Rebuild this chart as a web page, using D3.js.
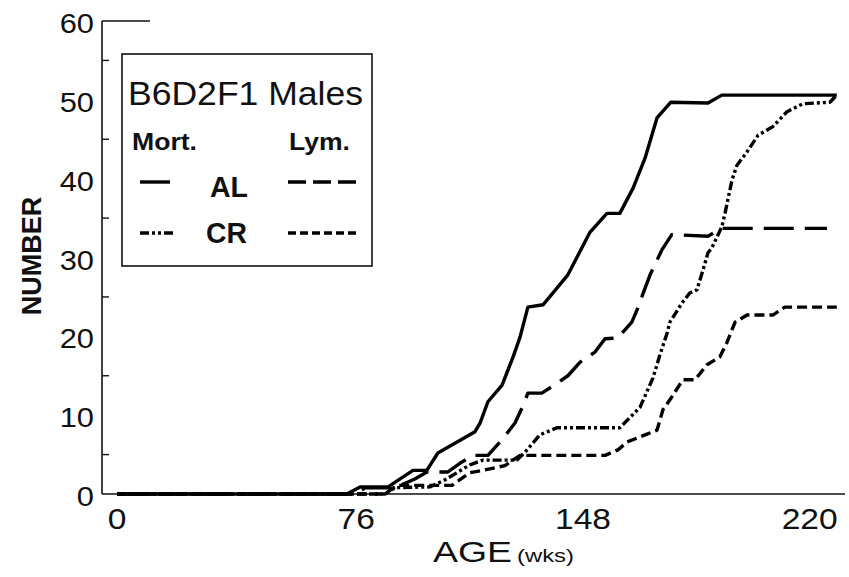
<!DOCTYPE html>
<html><head><meta charset="utf-8">
<script src="https://cdn.jsdelivr.net/npm/d3@7"></script>
<style>body{margin:0;background:#fff}svg{display:block}</style>
</head><body>
<svg id="chart" width="849" height="577"></svg>
<script>
// ---- data (age in weeks, cumulative number) ----
const mortALWeeks = [0,73.0,77.2,86.1,94.0,98.4,101.9,113.7,115.3,117.8,122.3,125.8,128.0,130.5,135.3,143.2,150.2,155.6,159.7,163.9,167.7,171.5,175.9,187.7,192.1,228.6];
const mortALValues = [0,0,0.9,0.9,3.0,3.0,5.2,7.9,9.0,11.7,13.8,17.4,19.9,23.7,24.0,27.8,33.2,35.6,35.6,38.8,42.6,47.7,49.7,49.6,50.6,50.6];

const lymALWeeks = [0,75.6,78.8,88.3,94.6,98.4,105.1,108.9,113.1,117.8,122.3,126.4,128.6,130.5,134.9,140.0,143.2,147.0,151.8,155.0,159.1,163.5,165.1,169.3,173.1,176.2,187.7,192.1,225.5];
const lymALValues = [0,0,0.8,0.8,1.9,2.8,2.8,3.9,4.9,4.9,6.9,9.0,10.9,12.8,12.8,14.1,15.0,16.7,18.0,19.7,19.8,21.8,23.3,27.8,31.0,32.9,32.7,33.7,33.7];

const mortCRWeeks = [0,85.1,88.3,99.4,104.2,112.1,116.2,127.0,129.6,134.3,139.7,159.7,166.1,170.2,172.4,174.7,175.6,179.4,181.9,184.2,186.1,187.7,188.9,192.1,193.1,195.3,196.9,200.1,203.6,208.3,212.8,217.8,226.4,228.6];
const mortCRValues = [0,0,0.8,0.9,1.8,3.7,4.3,4.3,5.3,7.5,8.4,8.4,11.0,14.7,17.6,20.4,21.8,24.2,25.5,25.9,28.4,30.6,31.2,33.9,35.6,39.8,41.7,43.4,45.5,46.6,48.5,49.5,49.7,50.6];

const lymCRWeeks = [0,85.1,88.9,106.4,112.1,116.2,123.2,128.0,155.0,159.1,162.0,167.7,171.5,173.4,176.2,179.7,183.6,187.4,191.5,193.7,196.3,200.1,208.3,212.1,228.6];
const lymCRValues = [0,0,1.1,1.1,2.7,3.0,3.6,4.9,4.9,5.6,6.6,7.5,8.1,10.7,12.3,14.5,14.5,16.4,17.4,19.2,21.8,22.7,22.7,23.7,23.7];

const xTickValues = [0,76,148,220];
const xTickLabels = ["0","76","148","220"];
const yTickValues = [0,10,20,30,40,50,60];
const yMinorTicks = [5,15,25,35,45,55];

// ---- drawing ----
const svg = d3.select("#chart");
svg.append("rect").attr("width",849).attr("height",577).attr("fill","#fff");

const x = d3.scaleLinear().domain([0,148]).range([117,583]);
const y = d3.scaleLinear().domain([0,60]).range([494,21]);
const FONT = "'Liberation Sans', Arial, Helvetica, sans-serif";

// axes lines
const axisX0 = 102;
svg.append("line").attr("x1",axisX0).attr("x2",axisX0).attr("y1",y(60)).attr("y2",y(0))
  .attr("stroke","#111").attr("stroke-width",1.6);
svg.append("line").attr("x1",axisX0).attr("x2",845).attr("y1",y(0)).attr("y2",y(0))
  .attr("stroke","#111").attr("stroke-width",1.6);
svg.append("line").attr("x1",axisX0).attr("x2",150).attr("y1",y(60)).attr("y2",y(60))
  .attr("stroke","#111").attr("stroke-width",1.4);
svg.selectAll("line.minor").data(yMinorTicks).enter().append("line")
  .attr("x1",axisX0).attr("x2",axisX0+7).attr("y1",d=>y(d)).attr("y2",d=>y(d))
  .attr("stroke","#111").attr("stroke-width",1.4);

// tick labels
svg.selectAll("text.ylab").data(yTickValues).enter().append("text")
  .attr("transform",d=>`translate(94,${y(d)+12}) scale(1.1,1)`).attr("text-anchor","end")
  .attr("font-family",FONT).attr("font-size",28).attr("fill","#111").text(d=>d);
svg.selectAll("text.xlab").data(xTickValues).enter().append("text")
  .attr("transform",d=>`translate(${x(d)},529) scale(1.12,1)`).attr("text-anchor","middle")
  .attr("font-family",FONT).attr("font-size",30).attr("fill","#111")
  .text((d,i)=>xTickLabels[i]);

// axis titles
svg.append("text").attr("x",433).attr("y",562).attr("font-family",FONT).attr("fill","#111")
  .attr("font-size",30).attr("textLength",79).attr("lengthAdjust","spacingAndGlyphs").text("AGE");
svg.append("text").attr("x",517).attr("y",562).attr("font-family",FONT).attr("fill","#111")
  .attr("font-size",18).attr("textLength",57).attr("lengthAdjust","spacingAndGlyphs").text("(wks)");
svg.append("text").attr("transform","translate(41,256) rotate(-90)")
  .attr("text-anchor","middle").attr("font-family",FONT).attr("font-size",27)
  .attr("font-weight","bold").attr("fill","#111").text("NUMBER");

// series
const series = [
  {w:mortALWeeks, v:mortALValues, dash:null},
  {w:lymALWeeks, v:lymALValues, dash:"30,11"},
  {w:lymCRWeeks, v:lymCRValues, dash:"10,5"},
  {w:mortCRWeeks, v:mortCRValues, dash:"9,3,3,3,3,3"}
];
const line = d3.line().x(d=>x(d[0])).y(d=>y(d[1]));
series.forEach(s=>{
  svg.append("path").datum(s.w.map((w,i)=>[w,s.v[i]]))
    .attr("d",line).attr("fill","none").attr("stroke","#000")
    .attr("stroke-width",3.4).attr("stroke-linejoin","round")
    .attr("stroke-dasharray",s.dash);
});

// legend
const lg = svg.append("g");
lg.append("rect").attr("x",122).attr("y",54).attr("width",250).attr("height",212)
  .attr("fill","#fff").attr("stroke","#111").attr("stroke-width",1.6);
const legText = (tx,ty,size,bold,len,str)=>lg.append("text").attr("x",tx).attr("y",ty)
  .attr("font-family",FONT).attr("font-size",size).attr("font-weight",bold?"bold":"normal")
  .attr("fill","#111").attr("textLength",len).attr("lengthAdjust","spacingAndGlyphs").text(str);
legText(128,105,33,false,235,"B6D2F1 Males");
legText(132,150,24,true,65,"Mort.");
legText(289,150,24,true,61,"Lym.");
legText(210,197,29,true,38,"AL");
legText(206,243,29,true,41,"CR");
const legLines = [
  {x1:140,x2:170,yy:182,dash:null},
  {x1:288,x2:357,yy:182,dash:"18,7"},
  {x1:140,x2:175,yy:233,dash:"9,3,3,3,3,3"},
  {x1:288,x2:358,yy:233,dash:"8,4"}
];
legLines.forEach(l=>{
  lg.append("line").attr("x1",l.x1).attr("x2",l.x2).attr("y1",l.yy).attr("y2",l.yy)
    .attr("stroke","#000").attr("stroke-width",3.4).attr("stroke-dasharray",l.dash);
});
</script>
</body></html>
